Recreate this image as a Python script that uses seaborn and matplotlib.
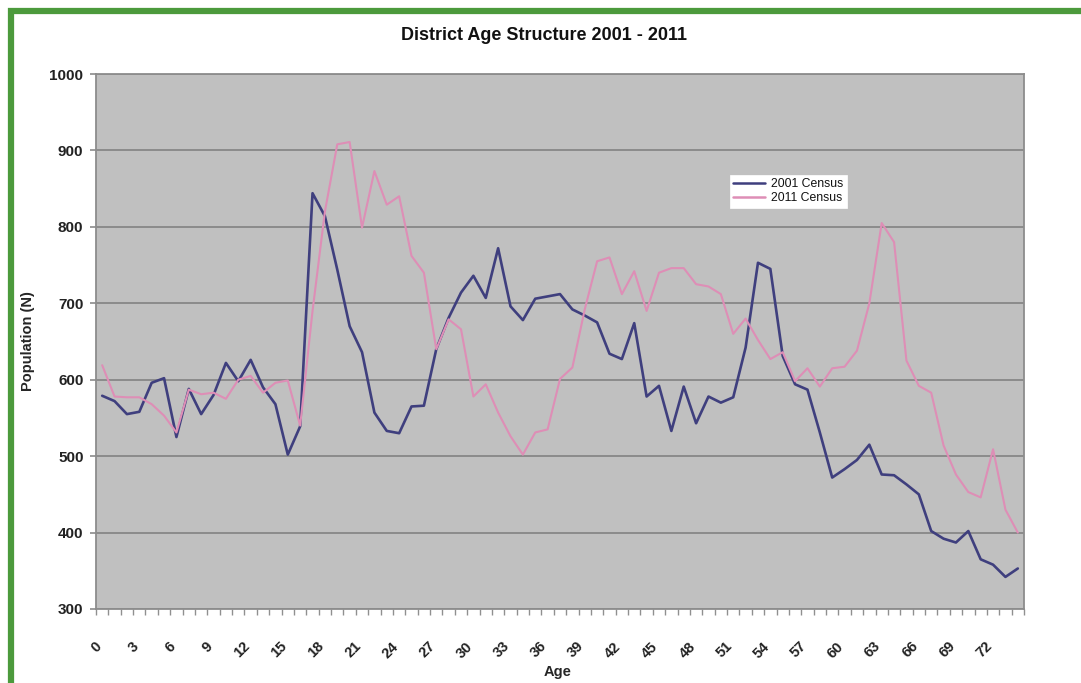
import numpy as np
import pandas as pd
import matplotlib
matplotlib.use("Agg")
import matplotlib.pyplot as plt
from matplotlib.patches import Rectangle
from matplotlib.transforms import ScaledTranslation
import seaborn as sns

ages = list(range(0, 75))
pop_2001 = [579, 572, 555, 558, 596, 602, 525, 588, 555, 580,
            622, 598, 626, 590, 568, 502, 539, 844, 814, 744,
            670, 636, 557, 533, 530, 565, 566, 640, 681, 714,
            736, 707, 772, 696, 678, 706, 709, 712, 692, 684,
            675, 634, 627, 674, 578, 592, 533, 591, 543, 578,
            570, 577, 642, 753, 745, 631, 594, 587, 531, 472,
            483, 495, 515, 476, 475, 463, 450, 402, 392, 387,
            402, 365, 358, 342, 353]
pop_2011 = [619, 578, 577, 577, 568, 553, 531, 587, 581, 583,
            575, 600, 605, 583, 596, 599, 540, 690, 820, 908,
            911, 799, 873, 829, 840, 762, 740, 640, 679, 666,
            578, 594, 557, 526, 502, 531, 535, 601, 616, 692,
            755, 760, 712, 742, 690, 740, 746, 746, 725, 722,
            712, 660, 680, 652, 627, 636, 598, 615, 591, 615,
            617, 638, 700, 805, 780, 625, 592, 583, 514, 476,
            453, 446, 509, 430, 400]
series_names = ["2001 Census", "2011 Census"]
y_ticks = [300, 400, 500, 600, 700, 800, 900, 1000]
x_tick_labels = list(range(0, 73, 3))

df = pd.DataFrame({
    "Age": ages * 2,
    "Population": pop_2001 + pop_2011,
    "Series": [series_names[0]] * len(ages) + [series_names[1]] * len(ages),
})

sns.set_theme(style="white")
plt.rcParams["font.family"] = ["Liberation Sans", "DejaVu Sans"]

fig = plt.figure(figsize=(10.81, 6.83), dpi=100)
fig.patch.set_facecolor("white")

# green frame (cropped at right and bottom)
green = "#4C9A3C"
fig.patches.append(Rectangle((11 / 1081, -0.1), 1.2, 1 - 11 / 683 + 0.1,
                             transform=fig.transFigure, fill=False,
                             edgecolor=green, linewidth=4.5, zorder=0))

ax = fig.add_axes([96 / 1081, 1 - 609 / 683, (1024 - 96) / 1081, (609 - 74) / 683])
ax.set_facecolor("#C0C0C0")

palette = {series_names[0]: "#3F3F7E", series_names[1]: "#DE8EB6"}
sns.lineplot(data=df, x="Age", y="Population", hue="Series", palette=palette,
             ax=ax, linewidth=1.8, legend=True)
for line, lw in zip(ax.lines, [1.9, 1.5]):
    line.set_linewidth(lw)

ax.set_xlim(-0.5, 74.5)
ax.set_ylim(300, 1000)
ax.set_yticks(y_ticks)
ax.set_yticklabels([str(v) for v in y_ticks], fontsize=11, fontweight="bold", color="#222222")
ax.yaxis.grid(True, color="#878787", linewidth=1.3)
ax.xaxis.grid(False)
ax.set_axisbelow(True)

ax.set_xticks(x_tick_labels)
ax.set_xticklabels([str(v) for v in x_tick_labels], rotation=45, ha="right",
                   rotation_mode="anchor", fontsize=10.5, fontweight="bold", color="#222222")
ax.set_xticks(np.arange(-0.5, 75, 1), minor=True)
ax.tick_params(axis="x", which="major", length=0, pad=16)
ax.tick_params(axis="x", which="minor", length=4, color="#909090", bottom=True)
ax.tick_params(axis="y", which="major", length=4, color="#909090", left=True, pad=5)

for s in ax.spines.values():
    s.set_color("#8C8C8C")
    s.set_linewidth(1.3)

ax.set_xlabel("Age", fontsize=10.5, fontweight="bold")
ax.xaxis.set_label_coords((558 - 96) / 928, -(665 - 609) / 535)
ax.set_ylabel("Population (N)", fontsize=10.5, fontweight="bold")
ax.yaxis.set_label_coords(-(96 - 35) / 928, 0.5)

fig.text(544 / 1081, 1 - 36 / 683, "District Age Structure 2001 - 2011",
         ha="center", va="center", fontsize=13, fontweight="bold", color="#111111")

leg = ax.legend(loc="upper left", bbox_to_anchor=(0.683, 0.812), frameon=True,
                fontsize=8.8, fancybox=False, framealpha=1.0, borderpad=0.3,
                handlelength=2.6, labelspacing=0.15, handletextpad=0.5,
                borderaxespad=0)
leg.get_frame().set_facecolor("white")
leg.get_frame().set_edgecolor("white")
leg.get_frame().set_linewidth(0.5)
for t in leg.get_texts():
    t.set_color("#111111")

# shift rotated category labels down-left, as in the reference
offset = ScaledTranslation(-8 / 100, -8 / 100, fig.dpi_scale_trans)
for tick in ax.xaxis.get_major_ticks():
    tick.label1.set_transform(tick.label1.get_transform() + offset)

fig.savefig("out.png", dpi=100, facecolor="white")
